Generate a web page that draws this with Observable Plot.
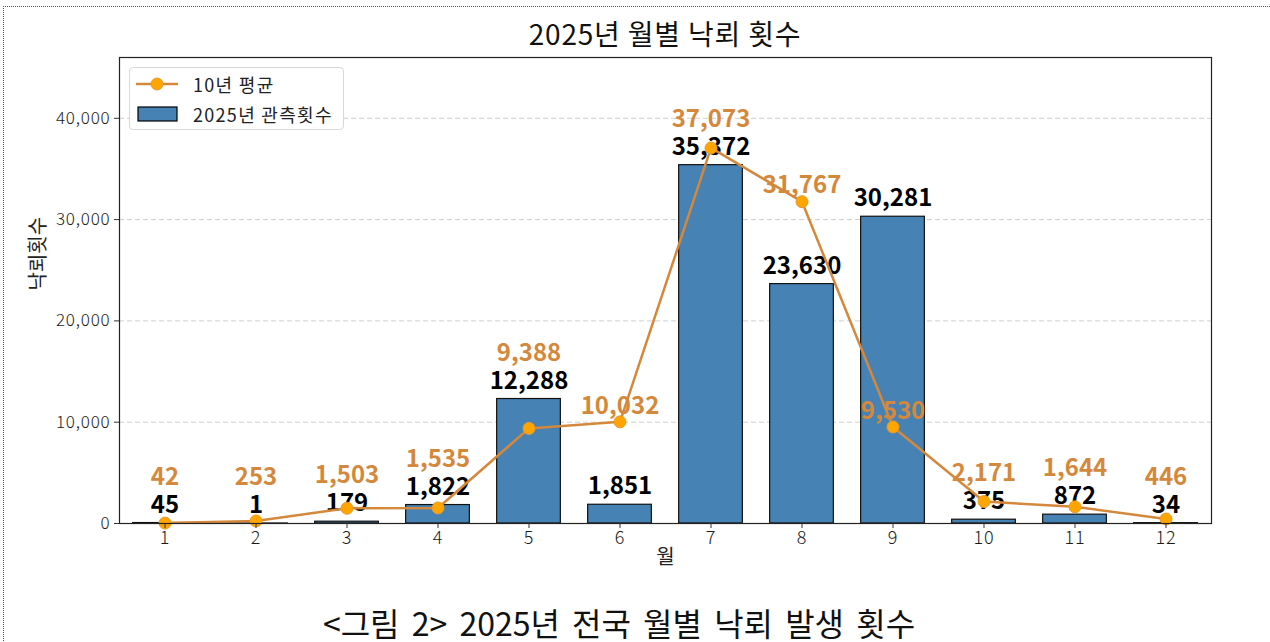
<!DOCTYPE html>
<html>
<head>
<meta charset="utf-8">
<script src="https://cdn.jsdelivr.net/npm/d3@7"></script>
<script src="https://cdn.jsdelivr.net/npm/@observablehq/plot@0.6"></script>
<style>
  body { margin: 0; background: #fff; font-family: "Noto Sans CJK KR", "Noto Sans", sans-serif; }
  #wrap { position: relative; width: 1270px; height: 642px; overflow: hidden; }
  #border { position: absolute; left: 3px; top: 6px; width: 1300px; height: 700px; border-left: 1px dotted #555; border-top: 1px dotted #555; }
  #title { position: absolute; left: 0; width: 1330px; top: 13px; line-height: 40px; text-align: center; font-size: 28px; letter-spacing: 0.8px; color: #111; }
  #chart { position: absolute; left: 0; top: 0; }
  #caption { position: absolute; left: 0; width: 1238px; top: 605px; line-height: 34px; text-align: center; font-size: 32px; color: #111; }
  #caption span { display: inline-block; word-spacing: 5px; }
  #legend { position: absolute; left: 129px; top: 67px; width: 213px; height: 61px; border: 1px solid #d8d8d8; border-radius: 4px; background: rgba(255,255,255,0.85); }
  .lg-row { position: absolute; left: 0; height: 24px; font-size: 18px; letter-spacing: 1.3px; color: #222; line-height: 24px; }
  .lg-row .txt { position: absolute; left: 63px; white-space: nowrap; }
</style>
</head>
<body>
<div id="wrap">
  <div id="border"></div>
  <div id="chart"></div>
  <div id="title">2025년 월별 낙뢰 횟수</div>
  <div id="legend">
    <div class="lg-row" style="top:4px">
      <svg width="60" height="24" style="position:absolute;left:5px;top:0">
        <line x1="1" y1="12" x2="43" y2="12" stroke="#D4883C" stroke-width="2.5"/>
        <circle cx="22" cy="12" r="6" fill="#FFA500" stroke="#E99A2A" stroke-width="1"/>
      </svg>
      <span class="txt">10년 평균</span>
    </div>
    <div class="lg-row" style="top:34px">
      <svg width="60" height="24" style="position:absolute;left:5px;top:0">
        <rect x="3" y="5" width="39" height="14" fill="#4682B4" stroke="#000" stroke-width="1.2"/>
      </svg>
      <span class="txt">2025년 관측횟수</span>
    </div>
  </div>
  <div id="caption"><span>&lt;그림 2&gt; 2025년 전국 월별 낙뢰 발생 횟수</span></div>
</div>
<script>
const months = [1, 2, 3, 4, 5, 6, 7, 8, 9, 10, 11, 12];
const obs2025 = [45, 1, 179, 1822, 12288, 1851, 35372, 23630, 30281, 375, 872, 34];
const avg10 = [42, 253, 1503, 1535, 9388, 10032, 37073, 31767, 9530, 2171, 1644, 446];
const yTicks = [0, 10000, 20000, 30000, 40000];

const data = months.map((m, i) => ({ m, obs: obs2025[i], avg: avg10[i] }));
const fmt = d3.format(",");
// when the two values are close, the average label is stacked above the bar label
const close = d => Math.abs(d.avg - d.obs) < 5000;
const orange = "#D4883C";

const chart = Plot.plot({
  width: 1270,
  height: 580,
  marginTop: 57,
  marginBottom: 57,
  marginLeft: 119,
  marginRight: 59,
  style: { fontFamily: "'Noto Sans CJK KR', 'Noto Sans', sans-serif", fontSize: "17px", color: "#1a1a1a", background: "transparent" },
  x: { type: "linear", domain: [0.5, 12.5] },
  y: { domain: [0, 46000] },
  marks: [
    Plot.gridY(yTicks, { stroke: "#cfcfcf", strokeOpacity: 1, strokeDasharray: "5,3" }),
    Plot.rect(data, { x1: d => d.m - 0.35, x2: d => d.m + 0.35, y1: 0, y2: "obs", fill: "#4682B4", stroke: "#111", strokeWidth: 1.2 }),
    Plot.text(data, { x: "m", y: "obs", text: d => fmt(d.obs), dy: -18, fill: "#000", fontWeight: "bold", fontSize: 24 }),
    Plot.text(data.filter(close), { x: "m", y: "obs", text: d => fmt(d.avg), dy: -46, fill: orange, fontWeight: "bold", fontSize: 24 }),
    Plot.text(data.filter(d => !close(d)), { x: "m", y: "avg", text: d => fmt(d.avg), dy: -16, fill: orange, fontWeight: "bold", fontSize: 24 }),
    Plot.line(data, { x: "m", y: "avg", stroke: orange, strokeWidth: 2.5 }),
    Plot.dot(data, { x: "m", y: "avg", r: 6, fill: "#FFA500", stroke: "#E99A2A", strokeWidth: 1 }),
    Plot.frame({ stroke: "#222", strokeWidth: 1.2 }),
    Plot.axisY({ ticks: yTicks, tickFormat: fmt, tickSize: 5, tickPadding: 4, label: null, fontSize: 17, fontWeight: 300, fill: "#1a1a1a", stroke: "#333" }),
    Plot.axisX({ ticks: months, tickFormat: d => String(d), tickSize: 5, tickPadding: 3, label: null, fontSize: 18, fontWeight: 300, fill: "#1a1a1a", stroke: "#333" }),
    Plot.text(["월"], { frameAnchor: "bottom", dy: 40, fontSize: 20, fill: "#222" }),
    Plot.text(["낙뢰횟수"], { frameAnchor: "left", dx: -81, rotate: -90, fontSize: 20, fill: "#222" })
  ]
});
chart.querySelectorAll("g[aria-label='y-axis tick label'] text, g[aria-label='x-axis tick label'] text").forEach(t => t.setAttribute("letter-spacing", "0.8"));
document.getElementById("chart").appendChild(chart);
</script>
</body>
</html>
